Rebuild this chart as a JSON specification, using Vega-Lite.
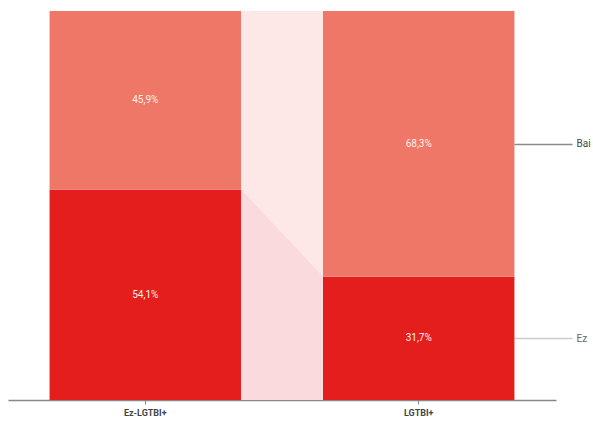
{
  "$schema": "https://vega.github.io/schema/vega-lite/v6.json",
  "width": 548,
  "height": 389,
  "autosize": {"type": "none"},
  "padding": {"left": 8, "top": 11, "right": 37, "bottom": 25},
  "config": {"view": {"stroke": null}, "font": "Roboto"},
  "datasets": {
    "bars": [
      {"grupo": "Ez-LGTBI+", "erantzuna": "Ez", "balioa": 54.1},
      {"grupo": "Ez-LGTBI+", "erantzuna": "Bai", "balioa": 45.9},
      {"grupo": "LGTBI+", "erantzuna": "Ez", "balioa": 31.7},
      {"grupo": "LGTBI+", "erantzuna": "Bai", "balioa": 68.3}
    ],
    "lotura": [
      {"ertza": 0, "Ez": 54.1, "guztira": 100},
      {"ertza": 1, "Ez": 31.7, "guztira": 100}
    ]
  },
  "layer": [
    {
      "data": {"name": "lotura"},
      "mark": {"type": "area", "color": "#fde7e7", "interpolate": "linear"},
      "encoding": {
        "x": {"field": "ertza", "type": "quantitative", "scale": {"domain": [-2.84, 3.84], "nice": false, "zero": false}, "axis": null},
        "y": {
          "field": "guztira", "type": "quantitative", "scale": {"domain": [0, 100], "nice": false},
          "axis": {
            "orient": "right", "offset": -42, "values": [15.85, 65.85],
            "labelExpr": "datum.value < 50 ? 'Ez' : 'Bai'", "title": null,
            "domain": false, "grid": false, "tickSize": 58,
            "tickColor": {"condition": {"test": "datum.value < 50", "value": "#cccccc"}, "value": "#8a8a8a"},
            "tickWidth": 1.3,
            "labelPadding": 4, "labelFontSize": 10,
            "labelColor": {"condition": {"test": "datum.value < 50", "value": "#666666"}, "value": "#444444"}
          }
        },
        "y2": {"datum": 0}
      }
    },
    {
      "data": {"name": "lotura"},
      "mark": {"type": "area", "color": "#fadadc", "interpolate": "linear"},
      "encoding": {
        "x": {"field": "ertza", "type": "quantitative", "scale": {"domain": [-2.84, 3.84], "nice": false, "zero": false}, "axis": null},
        "y": {"field": "Ez", "type": "quantitative"},
        "y2": {"datum": 0}
      }
    },
    {
      "data": {"name": "bars"},
      "layer": [
        {
          "mark": {"type": "bar"},
          "encoding": {
            "x": {
              "field": "grupo", "type": "nominal", "sort": ["Ez-LGTBI+", "LGTBI+"],
              "scale": {"paddingInner": 0.3, "paddingOuter": 0.152},
              "axis": {
                "title": null, "labelAngle": 0, "labelFontSize": 9, "labelFontWeight": "bold",
                "labelColor": "#444", "labelPadding": 4, "domainColor": "#888", "domainWidth": 1.5,
                "tickColor": "#888", "tickSize": 4, "tickWidth": 1
              }
            },
            "y": {"field": "balioa", "type": "quantitative", "stack": "zero"},
            "color": {
              "field": "erantzuna", "type": "nominal",
              "scale": {"domain": ["Ez", "Bai"], "range": ["#e31e1c", "#ee7768"]},
              "legend": null
            },
            "order": {"field": "erantzuna", "sort": "descending"}
          }
        },
        {
          "transform": [
            {"stack": "balioa", "groupby": ["grupo"], "as": ["y0", "y1"], "sort": [{"field": "erantzuna", "order": "descending"}]},
            {"calculate": "(datum.y0 + datum.y1) / 2", "as": "erdia"},
            {"calculate": "replace(format(datum.balioa, '.1f'), '.', ',') + '%'", "as": "etiketa"}
          ],
          "mark": {"type": "text", "fontSize": 10, "color": "#fdf3e6"},
          "encoding": {
            "x": {"field": "grupo", "type": "nominal", "sort": ["Ez-LGTBI+", "LGTBI+"]},
            "y": {"field": "erdia", "type": "quantitative"},
            "text": {"field": "etiketa"}
          }
        }
      ]
    }
  ],
  "resolve": {"scale": {"x": "independent"}}
}
